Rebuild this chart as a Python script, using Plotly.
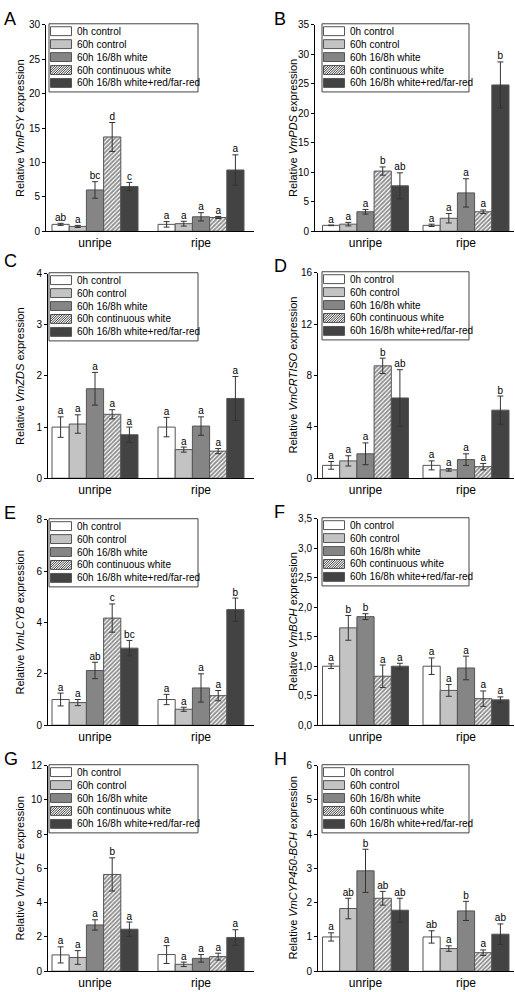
import plotly.graph_objects as go

W, H = 515, 992

groups = ["unripe", "ripe"]
series_names = ["0h control", "60h control", "60h 16/8h white",
                "60h continuous white", "60h 16/8h white+red/far-red"]

# values per series: [unripe, ripe]
psy_mean = [[1.0, 1.0], [0.7, 1.1], [6.0, 2.1], [13.7, 2.0], [6.5, 8.9]]
psy_err = [[0.15, 0.4], [0.15, 0.35], [1.2, 0.6], [2.1, 0.15], [0.6, 2.2]]
psy_sig = [["ab", "a"], ["a", "a"], ["bc", "a"], ["d", "a"], ["c", "a"]]

pds_mean = [[1.0, 1.0], [1.2, 2.2], [3.3, 6.5], [10.2, 3.3], [7.7, 24.8]]
pds_err = [[0.05, 0.2], [0.3, 0.8], [0.4, 2.4], [0.7, 0.3], [2.2, 3.9]]
pds_sig = [["a", "a"], ["a", "a"], ["a", "a"], ["b", "a"], ["ab", "b"]]

zds_mean = [[1.0, 1.0], [1.06, 0.56], [1.75, 1.02], [1.25, 0.53], [0.85, 1.56]]
zds_err = [[0.2, 0.19], [0.18, 0.05], [0.32, 0.18], [0.09, 0.05], [0.15, 0.43]]
zds_sig = [["a", "a"], ["a", "a"], ["a", "a"], ["a", "a"], ["a", "a"]]

crtiso_mean = [[1.0, 1.0], [1.35, 0.65], [1.9, 1.45], [8.75, 0.9], [6.25, 5.3]]
crtiso_err = [[0.3, 0.35], [0.4, 0.1], [0.85, 0.45], [0.6, 0.25], [2.2, 1.1]]
crtiso_sig = [["a", "a"], ["a", "a"], ["a", "a"], ["b", "a"], ["ab", "b"]]

lcyb_mean = [[1.0, 1.0], [0.88, 0.62], [2.13, 1.45], [4.17, 1.15], [3.0, 4.5]]
lcyb_err = [[0.25, 0.2], [0.12, 0.08], [0.32, 0.55], [0.55, 0.2], [0.3, 0.45]]
lcyb_sig = [["a", "a"], ["a", "a"], ["ab", "a"], ["c", "a"], ["bc", "b"]]

bch_mean = [[1.0, 1.0], [1.65, 0.59], [1.84, 0.97], [0.83, 0.45], [1.0, 0.43]]
bch_err = [[0.04, 0.14], [0.21, 0.1], [0.05, 0.2], [0.19, 0.13], [0.05, 0.05]]
bch_sig = [["a", "a"], ["b", "a"], ["b", "a"], ["a", "a"], ["a", "a"]]

lcye_mean = [[0.95, 0.97], [0.8, 0.4], [2.7, 0.75], [5.65, 0.85], [2.45, 1.97]]
lcye_err = [[0.47, 0.52], [0.4, 0.13], [0.3, 0.22], [0.97, 0.2], [0.42, 0.45]]
lcye_sig = [["a", "a"], ["a", "a"], ["a", "a"], ["b", "a"], ["a", "a"]]

cyp_mean = [[1.0, 1.0], [1.83, 0.66], [2.93, 1.76], [2.13, 0.54], [1.78, 1.08]]
cyp_err = [[0.12, 0.18], [0.3, 0.08], [0.63, 0.28], [0.2, 0.08], [0.35, 0.3]]
cyp_sig = [["a", "ab"], ["ab", "a"], ["b", "b"], ["ab", "a"], ["ab", "ab"]]

fills = ["#ffffff", "#c3c3c3", "#858585", "#ffffff", "#434343"]
EDGE = "#555555"
INK = "#000000"
FONT = "Liberation Sans, Arial, sans-serif"

# column geometry (px): group centres, right edge, legend box
cols = {
    1: dict(c0=95.0, c1=201.0, right=254.0, lg_l=49.0, lg_r=198.0, letter_x=2.0, title_x=20.0),
    2: dict(c0=365.5, c1=466.0, right=514.0, lg_l=322.0, lg_r=469.0, letter_x=272.0, title_x=293.0),
}

panels = [
    dict(letter="A", gene="VmPSY", mean=psy_mean, err=psy_err, sig=psy_sig,
         ymax=30, dtick=5, fmt="d", col=1, left=46, top=19, bottom=228, letter_y=1),
    dict(letter="B", gene="VmPDS", mean=pds_mean, err=pds_err, sig=pds_sig,
         ymax=35, dtick=5, fmt="d", col=2, left=315, top=19, bottom=228, letter_y=1),
    dict(letter="C", gene="VmZDS", mean=zds_mean, err=zds_err, sig=zds_sig,
         ymax=4, dtick=1, fmt="d", col=1, left=48, top=271, bottom=478, letter_y=246),
    dict(letter="D", gene="VmCRTISO", mean=crtiso_mean, err=crtiso_err, sig=crtiso_sig,
         ymax=16, dtick=4, fmt="d", col=2, left=318, top=270, bottom=478, letter_y=251),
    dict(letter="E", gene="VmLCYB", mean=lcyb_mean, err=lcyb_err, sig=lcyb_sig,
         ymax=8, dtick=2, fmt="d", col=1, left=48, top=520, bottom=728, letter_y=501),
    dict(letter="F", gene="VmBCH", mean=bch_mean, err=bch_err, sig=bch_sig,
         ymax=3.5, dtick=0.5, fmt=".1f", col=2, left=318, top=519, bottom=728, letter_y=500),
    dict(letter="G", gene="VmLCYE", mean=lcye_mean, err=lcye_err, sig=lcye_sig,
         ymax=12, dtick=2, fmt="d", col=1, left=48, top=769, bottom=977, letter_y=750),
    dict(letter="H", gene="VmCYP450-BCH", mean=cyp_mean, err=cyp_err, sig=cyp_sig,
         ymax=6, dtick=1, fmt="d", col=2, left=318, top=769, bottom=977, letter_y=750),
]


def PX(x):
    return x / W


def PY(y):
    return 1 - y / H


fig = go.Figure()
shapes = []
annotations = []
layout_axes = {}

BAR_PX = 17.2

for k, p in enumerate(panels, start=1):
    c = cols[p["col"]]
    unit = c["c1"] - c["c0"]
    lo = -(c["c0"] - p["left"]) / unit
    hi = 1 + (c["right"] - c["c1"]) / unit
    bw = BAR_PX / unit
    xs = list(range(len(groups)))
    xa = "x" if k == 1 else f"x{k}"
    ya = "y" if k == 1 else f"y{k}"

    for i, name in enumerate(series_names):
        marker = dict(color=fills[i], line=dict(color=EDGE, width=1))
        if i == 3:
            marker["pattern"] = dict(shape="/", fgcolor="#1a1a1a", bgcolor="#ffffff",
                                     size=3, solidity=0.6)
        fig.add_trace(go.Bar(
            x=xs, y=p["mean"][i], width=bw, offset=(i - 2.5) * bw,
            marker=marker, name=name, showlegend=False,
            error_y=dict(type="data", array=p["err"][i], color="#333333",
                         thickness=1, width=3),
            xaxis=xa, yaxis=ya,
        ))
        fig.add_trace(go.Scatter(
            x=[g + (i - 2) * bw for g in xs],
            y=[m + e for m, e in zip(p["mean"][i], p["err"][i])],
            mode="text", text=p["sig"][i], textposition="top center",
            textfont=dict(size=10, color=INK, family=FONT),
            cliponaxis=False, showlegend=False, hoverinfo="skip",
            xaxis=xa, yaxis=ya,
        ))

    xkey = "xaxis" if k == 1 else f"xaxis{k}"
    ykey = "yaxis" if k == 1 else f"yaxis{k}"
    layout_axes[xkey] = dict(
        domain=[PX(p["left"]), PX(c["right"])], anchor=ya, range=[lo, hi],
        tickvals=xs, ticktext=groups, showline=True, linecolor=INK, linewidth=1,
        ticks="", showgrid=False, zeroline=False,
        tickfont=dict(size=12, color=INK, family=FONT),
    )
    layout_axes[ykey] = dict(
        domain=[PY(p["bottom"]), PY(p["top"])], anchor=xa, range=[0, p["ymax"]],
        dtick=p["dtick"], tick0=0, tickformat=p["fmt"],
        showline=True, linecolor=INK, linewidth=1,
        ticks="outside", ticklen=3, tickcolor=INK,
        showgrid=False, zeroline=False,
        tickfont=dict(size=10, color=INK, family=FONT),
    )

    # panel letter
    annotations.append(dict(
        text=p["letter"], x=PX(c["letter_x"]), y=PY(p["letter_y"]), xref="paper", yref="paper",
        xanchor="left", yanchor="top", showarrow=False,
        font=dict(size=18, color=INK, family=FONT),
    ))
    # y title
    annotations.append(dict(
        text=f"Relative <i>{p['gene']}</i> expression",
        x=PX(c["title_x"]), y=PY((p["top"] + p["bottom"]) / 2), xref="paper", yref="paper",
        xanchor="center", yanchor="middle", textangle=-90, showarrow=False,
        font=dict(size=11, color=INK, family=FONT),
    ))

    # legend box (drawn)
    top = p["top"] - 1
    bl, br = c["lg_l"], c["lg_r"]
    shapes.append(dict(type="rect", xref="paper", yref="paper",
                       x0=PX(bl), x1=PX(br), y0=PY(top + 69), y1=PY(top),
                       line=dict(color="#444444", width=1), fillcolor="#ffffff", layer="above"))
    for i, name in enumerate(series_names):
        cy = top + 7.5 + i * 13.1
        sx0, sx1 = bl + 1.5, bl + 22.5
        sy0, sy1 = cy - 4.5, cy + 4.5
        shapes.append(dict(type="rect", xref="paper", yref="paper",
                           x0=PX(sx0), x1=PX(sx1), y0=PY(sy1), y1=PY(sy0),
                           line=dict(color=EDGE, width=1), fillcolor=fills[i], layer="above"))
        if i == 3:
            w = sx1 - sx0
            h = sy1 - sy0
            path = ""
            t = -h
            while t < w:
                u0 = max(0.0, -t)
                u1 = min(h, w - t)
                if u1 > u0:
                    xa0, ya0 = sx0 + t + u0, sy1 - u0
                    xa1, ya1 = sx0 + t + u1, sy1 - u1
                    path += f"M{PX(xa0):.5f},{PY(ya0):.5f} L{PX(xa1):.5f},{PY(ya1):.5f} "
                t += 2.4
            shapes.append(dict(type="path", xref="paper", yref="paper", path=path,
                               line=dict(color="#222222", width=0.9), layer="above"))
        annotations.append(dict(
            text=name, x=PX(bl + 25.5), y=PY(cy), xref="paper", yref="paper",
            xanchor="left", yanchor="middle", showarrow=False,
            font=dict(size=10, color=INK, family=FONT),
        ))

fig.update_layout(
    width=W, height=H, margin=dict(l=0, r=0, t=0, b=0),
    paper_bgcolor="#ffffff", plot_bgcolor="#ffffff",
    barmode="overlay", separators=",.", showlegend=False,
    shapes=shapes, annotations=annotations,
    font=dict(family=FONT, color=INK),
    **layout_axes,
)

fig.write_html(
    "out.html",
    config={"displayModeBar": False},
    post_script="document.body.style.margin='0';document.body.style.overflow='hidden';",
)
